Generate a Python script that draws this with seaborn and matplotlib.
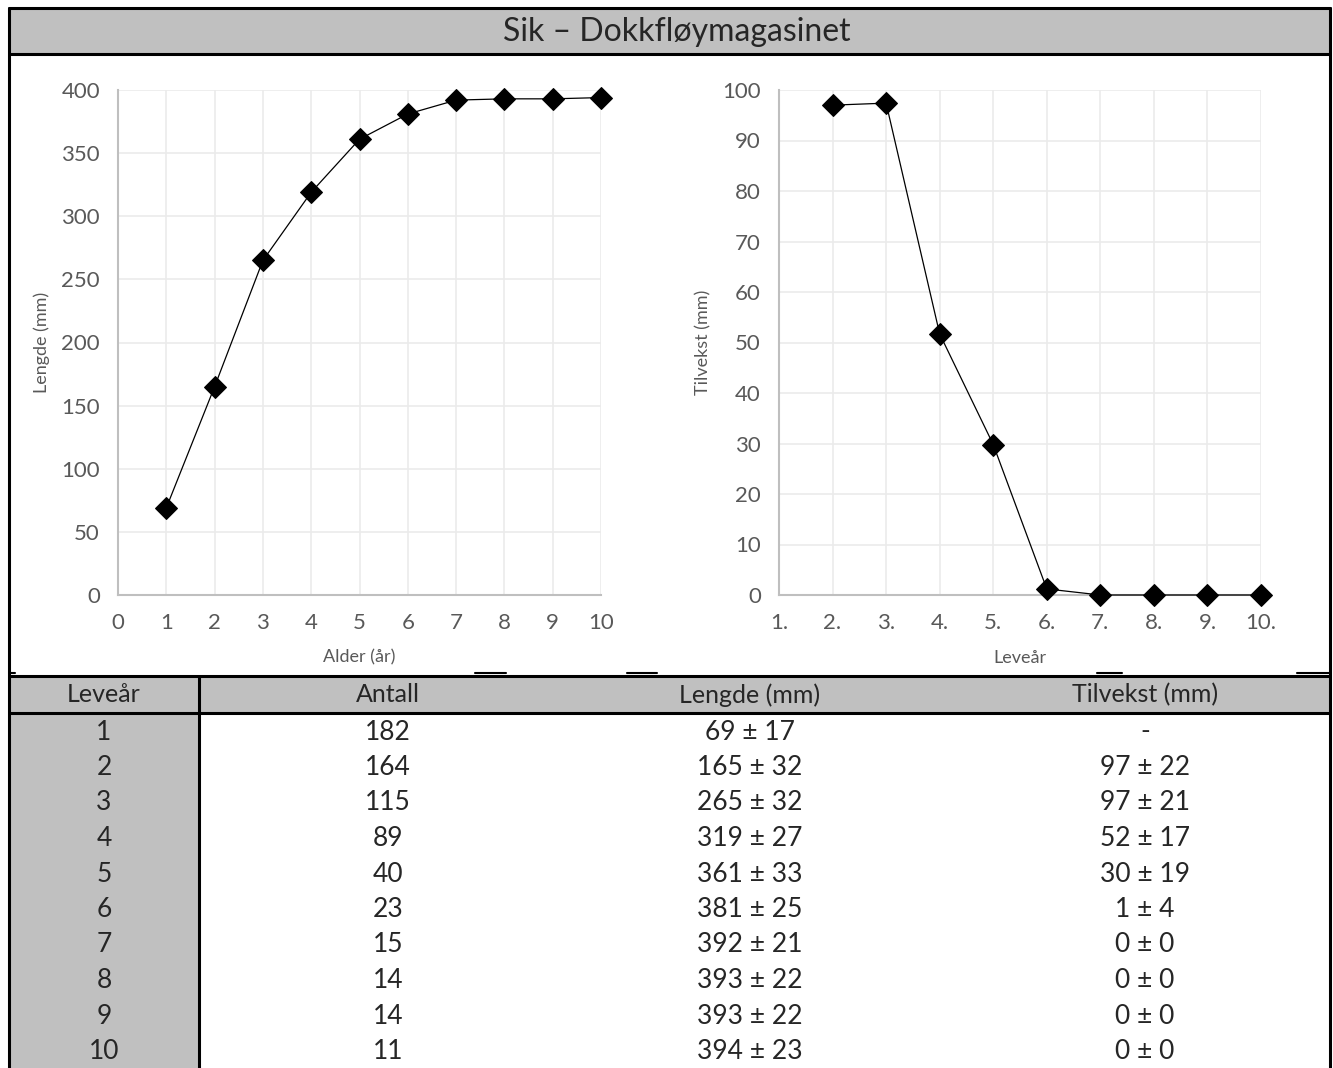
import numpy as np
import pandas as pd
import seaborn as sns
import matplotlib.pyplot as plt
from matplotlib.patches import Rectangle
from matplotlib.lines import Line2D

# data
alder = [1, 2, 3, 4, 5, 6, 7, 8, 9, 10]
lengde = [69, 165, 265, 319, 361, 381, 392, 393, 393, 394]
levear_plot = [2, 3, 4, 5, 6, 7, 8, 9, 10]
tilvekst = [97, 97.4, 51.7, 29.8, 1.2, 0, 0, 0, 0]

tab_levear = ['1', '2', '3', '4', '5', '6', '7', '8', '9', '10']
tab_antall = ['182', '164', '115', '89', '40', '23', '15', '14', '14', '11']
tab_lengde = ['69 ± 17', '165 ± 32', '265 ± 32', '319 ± 27', '361 ± 33',
              '381 ± 25', '392 ± 21', '393 ± 22', '393 ± 22', '394 ± 23']
tab_tilvekst = ['-', '97 ± 22', '97 ± 21', '52 ± 17', '30 ± 19',
                '1 ± 4', '0 ± 0', '0 ± 0', '0 ± 0', '0 ± 0']
headers = ['Leveår', 'Antall', 'Lengde (mm)', 'Tilvekst (mm)']

sns.set_style('white')
plt.rcParams['font.family'] = ['Lato', 'DejaVu Sans']

W, H = 1333, 1068
fig = plt.figure(figsize=(W / 100, H / 100), dpi=100)

def fx(px):
    return px / W

def fy(py):
    return 1 - py / H

grid_c = '#EBEBEB'
spine_c = '#BFBFBF'
tick_c = '#595959'

ax1 = fig.add_axes([fx(118), fy(595), fx(601 - 118), fy(90) - fy(595)])
ax2 = fig.add_axes([fx(779), fy(595), fx(1261 - 779), fy(90) - fy(595)])

df1 = pd.DataFrame({'Alder': alder, 'Lengde': lengde})
df2 = pd.DataFrame({'Levear': levear_plot, 'Tilvekst': tilvekst})

sns.lineplot(data=df1, x='Alder', y='Lengde', ax=ax1, color='black', lw=0.9,
             marker='D', markersize=11, markeredgecolor='black', zorder=5, clip_on=False)
sns.lineplot(data=df2, x='Levear', y='Tilvekst', ax=ax2, color='black', lw=0.9,
             marker='D', markersize=11, markeredgecolor='black', zorder=5, clip_on=False)

ax1.set_xlim(0, 10)
ax1.set_ylim(0, 400)
ax1.set_xticks(range(0, 11))
ax1.set_yticks(range(0, 401, 50))
ax1.set_xlabel('Alder (år)', fontsize=13, color=tick_c, labelpad=12)
ax1.set_ylabel('Lengde (mm)', fontsize=13, color=tick_c, labelpad=8)

ax2.set_xlim(1, 10)
ax2.set_ylim(0, 100)
ax2.set_xticks(range(1, 11))
ax2.set_xticklabels([f'{i}.' for i in range(1, 11)])
ax2.set_yticks(range(0, 101, 10))
ax2.set_xlabel('Leveår', fontsize=13, color=tick_c, labelpad=12)
ax2.set_ylabel('Tilvekst (mm)', fontsize=13, color=tick_c, labelpad=8)

for ax in (ax1, ax2):
    ax.grid(True, color=grid_c, lw=1.2)
    ax.set_axisbelow(True)
    for s in ('top', 'right'):
        ax.spines[s].set_visible(False)
    for s in ('left', 'bottom'):
        ax.spines[s].set_color(spine_c)
        ax.spines[s].set_linewidth(1.5)
    ax.tick_params(axis='both', which='both', direction='out', length=6,
                   width=1.2, color=spine_c, labelsize=16, labelcolor=tick_c, pad=7)
    ax.set_facecolor('white')

# frame, title band
fig.add_artist(Rectangle((fx(9), fy(54)), fx(1330 - 9), fy(8) - fy(54),
                         facecolor='#C0C0C0', edgecolor='none', transform=fig.transFigure, zorder=0))
fig.text(fx(677), fy(32), 'Sik – Dokkfløymagasinet', ha='center', va='center', fontsize=23)

# table header
fig.add_artist(Rectangle((fx(9), fy(713)), fx(1330 - 9), fy(676) - fy(713),
                         facecolor='#C0C0C0', edgecolor='none', transform=fig.transFigure, zorder=0))
fig.add_artist(Rectangle((fx(9), 0), fx(199 - 9), fy(713),
                         facecolor='#C0C0C0', edgecolor='none', transform=fig.transFigure, zorder=0))

col_x = [104, 388, 750, 1145]
for cx, h in zip(col_x, headers):
    fig.text(fx(cx), fy(695), h, ha='center', va='center', fontsize=18)

cols = [tab_levear, tab_antall, tab_lengde, tab_tilvekst]
for i in range(len(tab_levear)):
    yc = 732 + i * 35.5
    for cx, col in zip(col_x, cols):
        fig.text(fx(cx), fy(yc), col[i], ha='center', va='center', fontsize=19)

# lines
def hline(y, x0, x1, lw=2.2):
    fig.add_artist(Line2D([fx(x0), fx(x1)], [fy(y), fy(y)], color='black', lw=lw,
                          transform=fig.transFigure))

def vline(x, y0, y1, lw=2.2):
    fig.add_artist(Line2D([fx(x), fx(x)], [fy(y0), fy(y1)], color='black', lw=lw,
                          transform=fig.transFigure))

hline(8, 9, 1330)
hline(54, 9, 1330)
hline(676, 9, 1330)
hline(713, 9, 1330)
hline(673, 9, 15, lw=1.5)
hline(673, 475, 506, lw=1.5)
hline(673, 627, 657, lw=1.5)
hline(673, 1097, 1122, lw=1.5)
hline(673, 1297, 1330, lw=1.5)
vline(9, 8, 1068)
vline(1330, 8, 1068)
vline(199, 676, 1068)

fig.savefig('out.png', dpi=100, facecolor='white')
